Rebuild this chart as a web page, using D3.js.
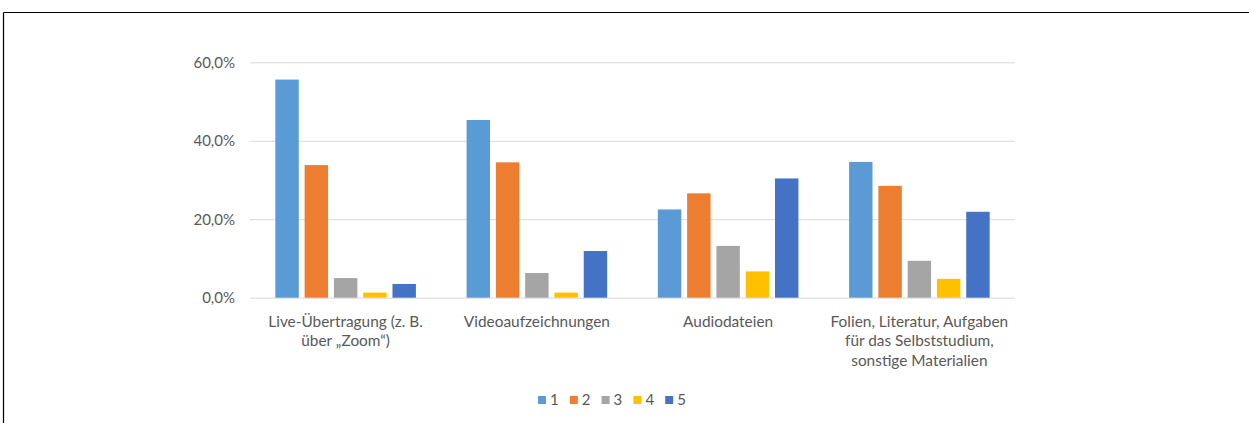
<!DOCTYPE html>
<html><head><meta charset="utf-8">
<script src="https://cdn.jsdelivr.net/npm/d3@7"></script>
<style>
html,body{margin:0;padding:0;background:#fff;}
svg{display:block;}
text{font-family:Lato,"Open Sans",sans-serif;fill:#595959;}
</style></head>
<body>
<svg id="chart" width="1249" height="423"></svg>
<script>
const categories = [
  ["Live-Übertragung (z. B.", "über „Zoom“)"],
  ["Videoaufzeichnungen"],
  ["Audiodateien"],
  ["Folien, Literatur, Aufgaben", "für das Selbststudium,", "sonstige Materialien"]
];
const seriesNames = ["1", "2", "3", "4", "5"];
const seriesColors = ["#5B9BD5", "#ED7D31", "#A5A5A5", "#FFC000", "#4472C4"];
const s1 = [55.6, 45.3, 22.5, 34.6];
const s2 = [33.8, 34.5, 26.6, 28.5];
const s3 = [5.0, 6.3, 13.2, 9.4];
const s4 = [1.3, 1.3, 6.7, 4.8];
const s5 = [3.5, 11.9, 30.4, 21.9];
const yTicks = [0, 20, 40, 60];

(function(){
const seriesValues = [s1, s2, s3, s4, s5];
const svg = d3.select("#chart");

// frame
svg.append("line").attr("x1",3.5).attr("x2",1249).attr("y1",12.5).attr("y2",12.5).attr("stroke","#000").attr("stroke-width",1.2);
svg.append("line").attr("x1",3.5).attr("x2",3.5).attr("y1",12.5).attr("y2",423).attr("stroke","#000").attr("stroke-width",1.2);

const pl = 250, pr = 1015, pt = 62.3, pb = 297.7;
const catIdx = categories.map((c,i)=>i);
const x0 = d3.scaleBand().domain(catIdx).range([pl,pr]).padding(0);
const x1 = d3.scaleBand().domain(seriesNames).range([0,x0.bandwidth()]).paddingInner(0.2).paddingOuter(0.865);
const y = d3.scaleLinear().domain([0,60]).range([pb,pt]);

// gridlines
const yAxis = d3.axisLeft(y).tickValues(yTicks).tickSize(-(pr-pl)).tickPadding(15)
  .tickFormat(d => d3.format(".1f")(d).replace(".", ",") + "%");
const gy = svg.append("g").attr("transform",`translate(${pl},0)`).call(yAxis);
gy.select(".domain").remove();
gy.selectAll(".tick line").attr("stroke","#d9d9d9").attr("stroke-width",1);
gy.selectAll(".tick text").attr("font-size",15).attr("font-family","Lato").attr("fill","#595959");

// bars
seriesNames.forEach((s,si)=>{
  svg.append("g").selectAll("rect").data(seriesValues[si]).join("rect")
    .attr("x",(d,i)=>x0(i)+x1(s))
    .attr("width",x1.bandwidth())
    .attr("y",d=>y(d))
    .attr("height",d=>y(0)-y(d))
    .attr("fill",seriesColors[si]);
});

// category labels
const xl = svg.append("g");
categories.forEach((lines,i)=>{
  const cx = x0(i)+x0.bandwidth()/2;
  const t = xl.append("text").attr("text-anchor","middle").attr("font-size",15.4);
  lines.forEach((ln,j)=>{
    t.append("tspan").attr("x", cx).attr("y", 327 + j*19.3).text(ln);
  });
});

// legend
const lg = svg.append("g");
const legX = 538, legStep = 31.8;
seriesNames.forEach((s,si)=>{
  const g = lg.append("g").attr("transform",`translate(${legX+si*legStep},0)`);
  g.append("rect").attr("x",0).attr("y",396).attr("width",8).attr("height",8).attr("fill",seriesColors[si]);
  g.append("text").attr("x",12).attr("y",405).attr("font-size",15).text(s);
});
})();
</script>
</body></html>
